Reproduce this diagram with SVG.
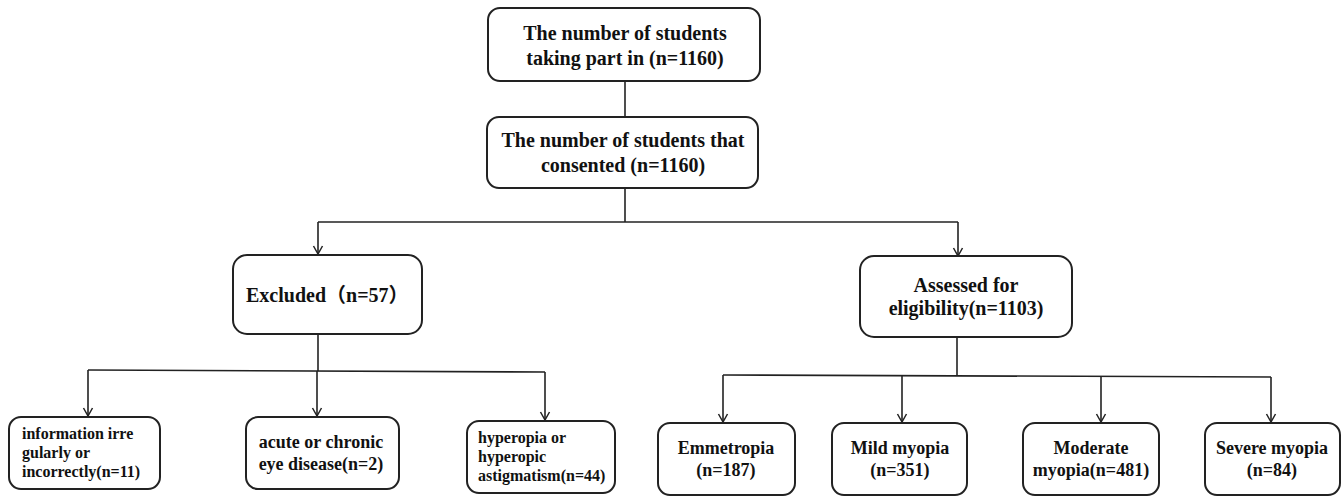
<svg xmlns="http://www.w3.org/2000/svg" width="1343" height="496" viewBox="0 0 1343 496">
  <style>
    .box { fill: #ffffff; stroke: #222222; stroke-width: 2; }
    .t { font-family: "Liberation Serif", "Times New Roman", "Noto Sans CJK SC", serif; font-weight: bold; fill: #111111; }
    .t20 { font-size: 20px; }
    .t18 { font-size: 18px; }
    .t16 { font-size: 16px; }
    .c { text-anchor: middle; }
    .ln { fill: none; stroke: #222222; stroke-width: 1.6; }
    .ar { fill: none; stroke: #222222; stroke-width: 1.6; marker-end: url(#arr); }
  </style>
  <defs>
    <marker id="arr" markerWidth="12" markerHeight="12" refX="10" refY="6" orient="auto" markerUnits="userSpaceOnUse" viewBox="0 0 12 12">
      <polyline points="2,1.5 10,6 2,10.5" fill="none" stroke="#222222" stroke-width="1.5"/>
    </marker>
  </defs>
  <rect width="1343" height="496" fill="#ffffff"/>

  <g id="connectors">
    <line class="ln" x1="625" y1="81" x2="625" y2="117"/>
    <line class="ln" x1="625" y1="188" x2="625" y2="222"/>
    <line class="ln" x1="318" y1="222" x2="958" y2="222"/>
    <line class="ar" x1="318" y1="222" x2="318" y2="254"/>
    <line class="ar" x1="958" y1="222" x2="958" y2="256"/>

    <line class="ln" x1="318" y1="334" x2="318" y2="371"/>
    <line class="ln" x1="88" y1="370" x2="545" y2="372"/>
    <line class="ar" x1="88" y1="370" x2="88" y2="416"/>
    <line class="ar" x1="317" y1="371" x2="317" y2="416"/>
    <line class="ar" x1="545" y1="372" x2="545" y2="420"/>

    <line class="ln" x1="957" y1="337" x2="957" y2="376"/>
    <line class="ln" x1="723" y1="375" x2="1271" y2="377"/>
    <line class="ar" x1="723" y1="375" x2="723" y2="422"/>
    <line class="ar" x1="902" y1="375.5" x2="902" y2="422"/>
    <line class="ar" x1="1101" y1="376" x2="1101" y2="422"/>
    <line class="ar" x1="1271" y1="377" x2="1271" y2="422"/>
  </g>

  <g id="n-participants">
    <rect class="box" x="488" y="8" width="272" height="73" rx="12"/>
    <text class="t t20 c" x="625" y="40">The number of students</text>
    <text class="t t20 c" x="625" y="65">taking part in (n=1160)</text>
  </g>

  <g id="n-consented">
    <rect class="box" x="487" y="117" width="271" height="71" rx="12"/>
    <text class="t t20 c" x="623" y="147">The number of students that</text>
    <text class="t t20 c" x="623" y="172">consented (n=1160)</text>
  </g>

  <g id="n-excluded">
    <rect class="box" x="233" y="255" width="189" height="79" rx="14"/>
    <text class="t t20" x="246" y="302">Excluded（n=57）</text>
  </g>

  <g id="n-assessed">
    <rect class="box" x="860" y="256" width="212" height="81" rx="14"/>
    <text class="t t20 c" x="966" y="292">Assessed for</text>
    <text class="t t20 c" x="966" y="315">eligibility(n=1103)</text>
  </g>

  <g id="n-info">
    <rect class="box" x="9" y="417" width="151" height="72" rx="12"/>
    <text class="t t16" x="22" y="439">information irre</text>
    <text class="t t16" x="22" y="458">gularly or</text>
    <text class="t t16" x="22" y="477">incorrectly(n=11)</text>
  </g>

  <g id="n-eye">
    <rect class="box" x="246" y="417" width="153" height="72" rx="12"/>
    <text class="t t18 c" x="321" y="448">acute or chronic</text>
    <text class="t t18 c" x="321" y="470">eye disease(n=2)</text>
  </g>

  <g id="n-hyperopia">
    <rect class="box" x="467" y="421" width="148" height="72" rx="12"/>
    <text class="t t16" x="478" y="443">hyperopia or</text>
    <text class="t t16" x="478" y="462">hyperopic</text>
    <text class="t t16" x="478" y="481">astigmatism(n=44)</text>
  </g>

  <g id="n-emmetropia">
    <rect class="box" x="658" y="423" width="137" height="72" rx="12"/>
    <text class="t t18 c" x="726" y="454">Emmetropia</text>
    <text class="t t18 c" x="726" y="476">(n=187)</text>
  </g>

  <g id="n-mild">
    <rect class="box" x="832" y="423" width="135" height="72" rx="12"/>
    <text class="t t18 c" x="900" y="454">Mild myopia</text>
    <text class="t t18 c" x="900" y="476">(n=351)</text>
  </g>

  <g id="n-moderate">
    <rect class="box" x="1023" y="423" width="136" height="72" rx="12"/>
    <text class="t t18 c" x="1091" y="454">Moderate</text>
    <text class="t t18 c" x="1091" y="476">myopia(n=481)</text>
  </g>

  <g id="n-severe">
    <rect class="box" x="1205" y="423" width="135" height="72" rx="12"/>
    <text class="t t18 c" x="1272" y="454">Severe myopia</text>
    <text class="t t18 c" x="1272" y="476">(n=84)</text>
  </g>
</svg>
